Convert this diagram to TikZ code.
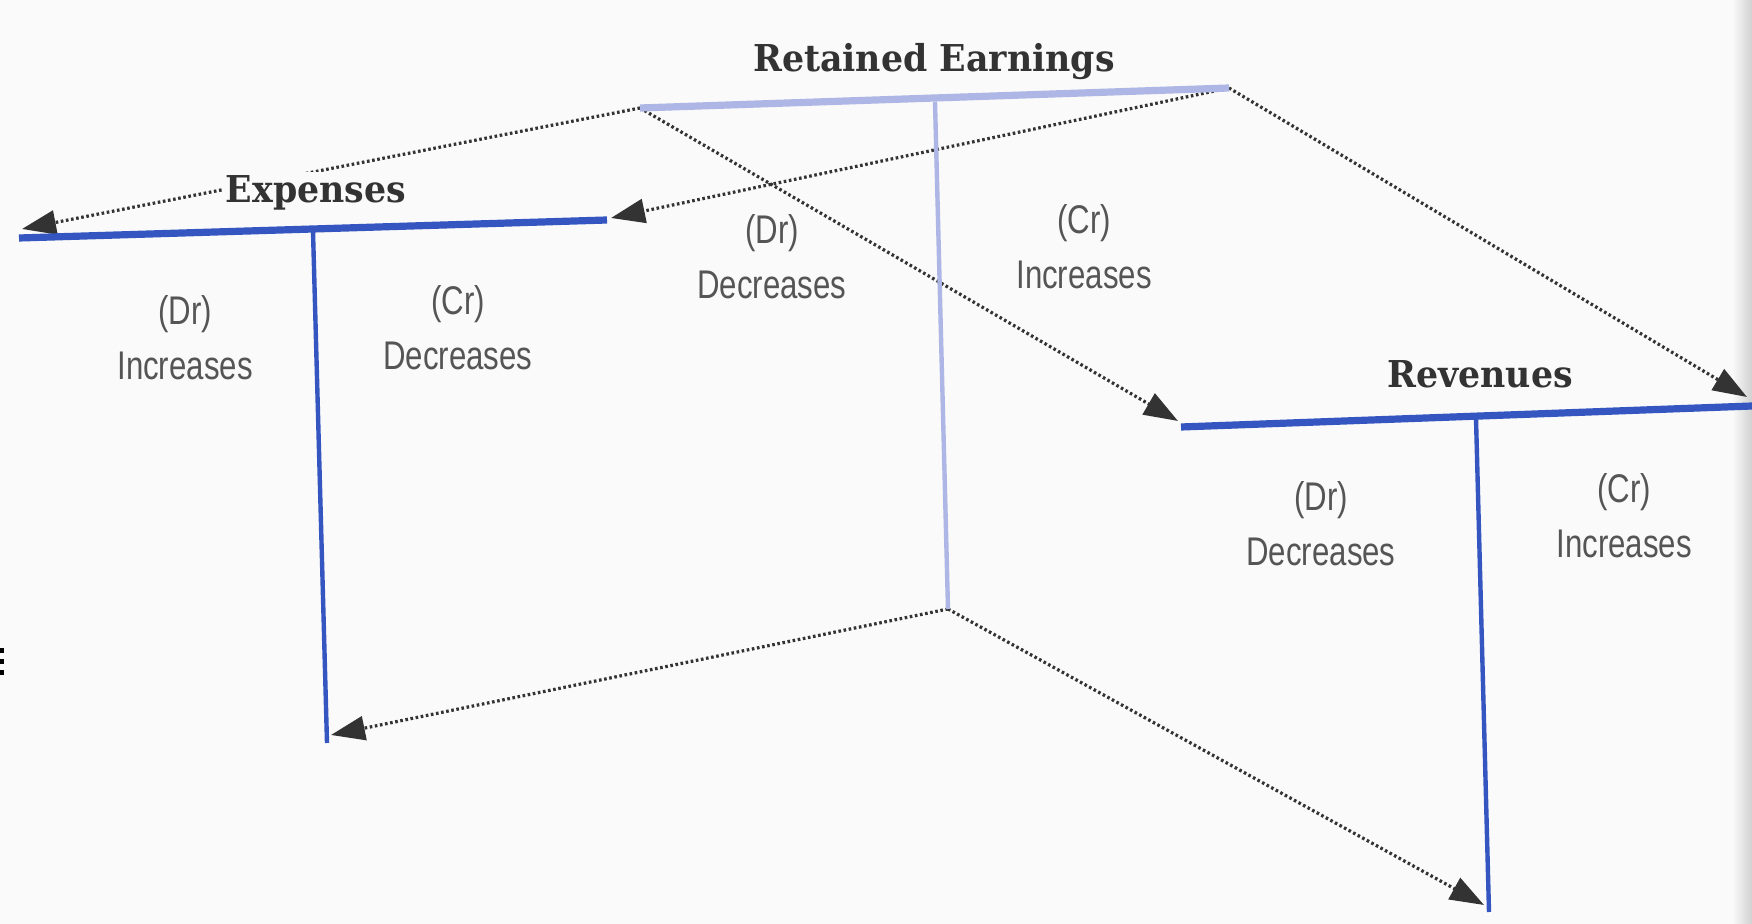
\documentclass[tikz,border=0pt]{standalone}
\usepackage{fontspec}
\setmainfont{DejaVu Serif}
\newfontfamily\titlefont[FakeStretch=0.94]{DejaVu Serif}
\newfontfamily\labfont[FakeStretch=0.78]{Liberation Sans}
\usetikzlibrary{arrows.meta}
\definecolor{acctblue}{HTML}{3556C0}
\definecolor{relav}{HTML}{AEB6E6}
\definecolor{dotgray}{HTML}{333333}
\definecolor{labgray}{HTML}{555555}
\definecolor{titlegray}{HTML}{333333}
\definecolor{paper}{HTML}{FAFAFA}
\begin{document}
\begin{tikzpicture}[x=0.5pt,y=-0.5pt,
  hbar/.style={line width=3.6pt,line cap=butt},
  vbar/.style={line width=2.2pt,line cap=butt},
  flow/.style={dotgray,line width=1.6pt,dash pattern=on 1.3pt off 1.3pt,
    -{Triangle[length=17pt,width=12pt]}},
  title/.style={font=\titlefont\bfseries\fontsize{18.5}{22}\selectfont,text=titlegray,anchor=base,inner sep=2pt},
  titlebg/.style={title,fill=paper},
  side/.style={font=\labfont\fontsize{20}{27.5}\selectfont,text=labgray,align=center,inner sep=0pt}]
\useasboundingbox (0,0) rectangle (1752,924);
\fill[paper] (0,0) rectangle (1752,924);
\shade[left color=paper,right color=black!18] (1732,0) rectangle (1752,924);
\fill[black] (0,648) rectangle (4,653);
\fill[black] (0,659) rectangle (4,664);
\fill[black] (0,670) rectangle (4,675);

% endpoints of the T-accounts
\coordinate (reL) at (640,108);
\coordinate (reR) at (1229,88);
\coordinate (reTop) at (935,102);
\coordinate (reB) at (948,609);
\coordinate (exL) at (19,238);
\coordinate (exR) at (607,220);
\coordinate (exTop) at (313,231);
\coordinate (exB) at (327,743);
\coordinate (rvL) at (1181,427);
\coordinate (rvR) at (1752,406);
\coordinate (rvTop) at (1476,418);
\coordinate (rvB) at (1489,912);
% arrow targets
\coordinate (exLa) at (22,229);
\coordinate (exRa) at (611,218);
\coordinate (rvLa) at (1178,421);
\coordinate (rvRa) at (1747,397);
\coordinate (exBa) at (331,735);
\coordinate (rvBa) at (1484,905);

% dotted flows
\draw[flow] (reL) -- (exLa);
\draw[flow] (reR) -- (exRa);
\draw[flow] (reL) -- (rvLa);
\draw[flow] (reR) -- (rvRa);
\draw[flow] (reB) -- (exBa);
\draw[flow] (reB) -- (rvBa);

% Retained Earnings T
\draw[relav,hbar] (reL) -- (reR);
\draw[relav,vbar] (reTop) -- (reB);
% Expenses T
\draw[acctblue,hbar] (exL) -- (exR);
\draw[acctblue,vbar] (exTop) -- (exB);
% Revenues T
\draw[acctblue,hbar] (rvL) -- (rvR);
\draw[acctblue,vbar] (rvTop) -- (rvB);

% titles
\node[title] (reT) at (934,72) {Retained Earnings};
\node[titlebg] (exT) at (316,203) {Expenses};
\node[title] (rvT) at (1480,388) {Revenues};

% side labels
\node[side] (exDr) at (185,338) {(Dr)\\Increases};
\node[side] (exCr) at (458,328) {(Cr)\\Decreases};
\node[side] (reDr) at (772,257) {(Dr)\\Decreases};
\node[side] (reCr) at (1084,247) {(Cr)\\Increases};
\node[side] (rvDr) at (1321,524) {(Dr)\\Decreases};
\node[side] (rvCr) at (1624,516) {(Cr)\\Increases};
\end{tikzpicture}
\end{document}
